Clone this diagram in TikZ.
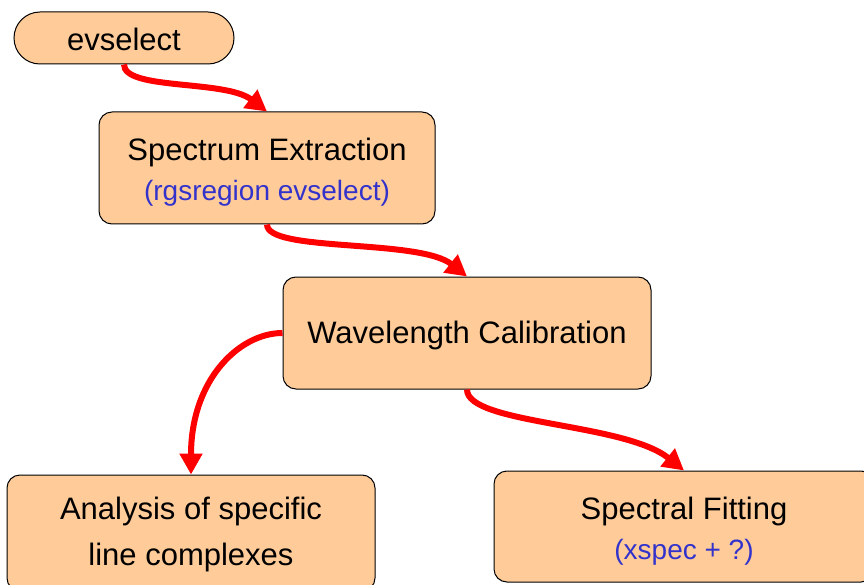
\documentclass[tikz,border=0pt]{standalone}
\usepackage{fontspec}
\setmainfont{Liberation Sans}
\usetikzlibrary{arrows.meta}
\definecolor{peach}{RGB}{255,204,153}
\definecolor{toolblue}{RGB}{51,51,204}
\begin{document}
\begin{tikzpicture}[x=1pt,y=1pt,
    box/.style={draw,fill=peach,line width=1pt,rounded corners=13pt,align=center,
                font=\fontsize{31}{40}\selectfont,inner sep=0pt},
    flow/.style={red,line width=6pt,-{Triangle[length=21pt,width=22pt]}}]
            \useasboundingbox (0,0) rectangle (864,-585);

            \node[box,rounded corners=26pt,minimum width=220pt,minimum height=52pt] (ev) at (124,-38) {\rule{0pt}{26pt}evselect};
            \node[box,minimum width=336pt,minimum height=112pt] (spec) at (267,-168)
                {\rule{0pt}{30pt}Spectrum Extraction\\{\color{toolblue}\fontsize{28}{40}\selectfont (rgsregion evselect)}};
            \node[box,minimum width=368pt,minimum height=112pt] (wave) at (467,-333) {\rule{0pt}{27pt}Wavelength Calibration};
            \node[box,minimum width=368pt,minimum height=116pt] (anal) at (191,-533)
                {\rule{0pt}{26pt}Analysis of specific\\[6pt]line complexes};
            \node[box,minimum width=380pt,minimum height=111pt] (fit) at (684,-526.5)
                {\rule{0pt}{32pt}Spectral Fitting\\{\color{toolblue}\fontsize{28}{40}\selectfont (xspec + ?)}};

            \draw[flow] (ev.south) .. controls +(0,-26) and +(-42,32) .. (spec.north);
            \draw[flow] (spec.south) .. controls +(0,-28) and +(-48,38) .. (wave.north);
            \draw[flow] (wave.west) .. controls +(-43,0) and +(0,95) .. (anal.north);
            \draw[flow] (wave.south) .. controls +(0,-35) and +(-60,48) .. (fit.north);
        \end{tikzpicture}
\end{document}
